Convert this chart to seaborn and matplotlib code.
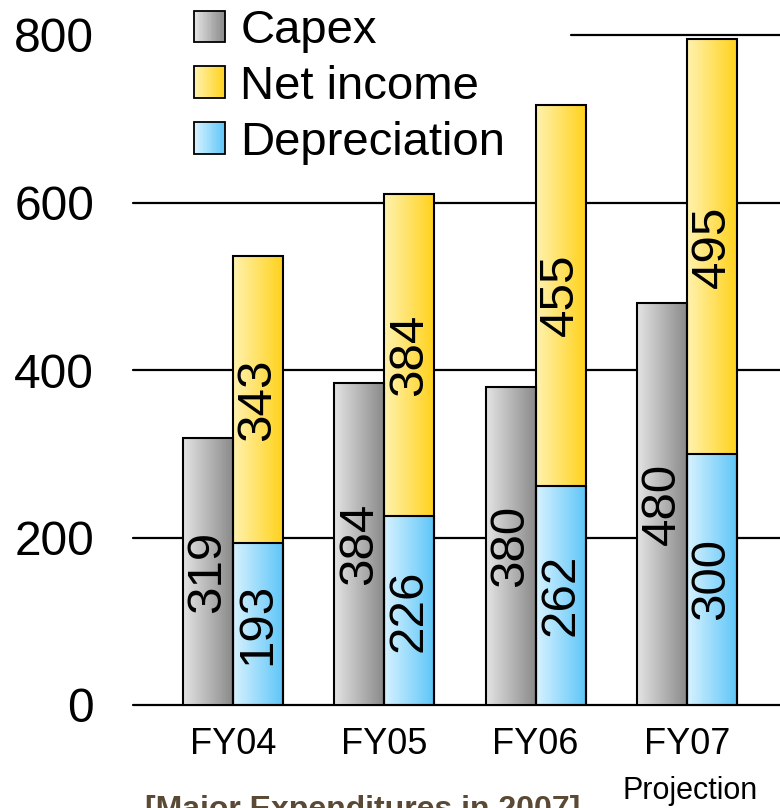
import numpy as np
import pandas as pd
import matplotlib
matplotlib.use("Agg")
import matplotlib.pyplot as plt
from matplotlib.colors import LinearSegmentedColormap
from matplotlib.patches import Rectangle, Patch
from matplotlib.legend_handler import HandlerBase
import seaborn as sns

# ---- data ----
years = ["FY04", "FY05", "FY06", "FY07"]
capex = [319, 384, 380, 480]
net_income = [343, 384, 455, 495]
depreciation = [193, 226, 262, 300]
y_ticks = [0, 200, 400, 600, 800]
series_names = ["Capex", "Net income", "Depreciation"]
footnote = "Projection"
caption = "[Major Expenditures in 2007]"

# ---- style ----
sns.set_style("white")
plt.rcParams["font.family"] = ["Liberation Sans", "DejaVu Sans"]
plt.rcParams["text.color"] = "black"
plt.rcParams["xtick.color"] = "black"
plt.rcParams["ytick.color"] = "black"
plt.rcParams["xtick.labelcolor"] = "black"
plt.rcParams["ytick.labelcolor"] = "black"

GRAD = {
    "Capex": ("#e4e4e4", "#8a8a8a"),
    "Net income": ("#fff2b0", "#ffd21c"),
    "Depreciation": ("#d8f2ff", "#5ec6f8"),
}
EDGE_LW = 1.5

fig = plt.figure(figsize=(7.8, 8.08), dpi=100)
ax = fig.add_axes([133 / 780, 103 / 808, 1 - 133 / 780, 670 / 808])

slots = ["left", "right"]
totals = [d + n for d, n in zip(depreciation, net_income)]

back = pd.DataFrame({
    "year": years * 2,
    "slot": ["left"] * 4 + ["right"] * 4,
    "value": capex + totals,
})
front = pd.DataFrame({
    "year": years,
    "slot": ["right"] * 4,
    "value": depreciation,
})

common = dict(x="year", y="value", hue="slot", hue_order=slots, order=years,
              dodge=True, width=0.66, saturation=1, legend=False,
              edgecolor="black", linewidth=EDGE_LW, ax=ax, errorbar=None)
sns.barplot(data=back, palette=[GRAD["Capex"][1], GRAD["Net income"][1]], **common)
sns.barplot(data=front, palette=[GRAD["Capex"][1], GRAD["Depreciation"][1]], **common)

cont_capex = ax.containers[0]
cont_total = ax.containers[1]
cont_dep = ax.containers[-1]

grad = np.linspace(0, 1, 256).reshape(1, -1)


def fill_gradient(container, key, zimg):
    cmap = LinearSegmentedColormap.from_list(key, GRAD[key])
    for p in container.patches:
        x0, y0 = p.get_x(), p.get_y()
        w, h = p.get_width(), p.get_height()
        if h == 0 or np.isnan(h):
            continue
        im = ax.imshow(grad, extent=[x0, x0 + w, y0, y0 + h], aspect="auto",
                       cmap=cmap, origin="lower", zorder=zimg,
                       interpolation="bilinear")
        im.set_clip_path(p)
        p.set_facecolor("none")
        p.set_zorder(3)


fill_gradient(cont_capex, "Capex", 2.0)
fill_gradient(cont_total, "Net income", 2.0)
fill_gradient(cont_dep, "Depreciation", 2.4)

# value labels inside each segment
lab_kw = dict(rotation=90, ha="center", va="center", fontsize=35.5, color="black", zorder=4)
for i, p in enumerate(cont_capex.patches):
    cx = p.get_x() + p.get_width() / 2
    ax.text(cx, capex[i] / 2, f"{capex[i]}", **lab_kw)
for i, p in enumerate(cont_dep.patches):
    cx = p.get_x() + p.get_width() / 2
    ax.text(cx, depreciation[i] / 2, f"{depreciation[i]}", **lab_kw)
    ax.text(cx, depreciation[i] + net_income[i] / 2, f"{net_income[i]}", **lab_kw)

# axes, grid
ax.set_xlim(-0.66, 3.615)
ax.set_ylim(0, 800)
ax.set_yticks(y_ticks)
ax.set_yticklabels([str(v) for v in y_ticks], fontsize=34.5)
ax.set_xticks(range(len(years)))
ax.set_xticklabels(years, fontsize=26)
ax.tick_params(axis="y", length=0, pad=28)
ax.tick_params(axis="x", length=0, pad=16)
ax.set_xlabel("")
ax.set_ylabel("")
for s in ax.spines.values():
    s.set_visible(False)

legend_right = (571 - 133) / (780 - 133)
for v in y_ticks:
    xmin = legend_right if v == y_ticks[-1] else 0
    ax.axhline(v, xmin=xmin, xmax=1, color="black", lw=1.6, zorder=0.5,
               clip_on=False)

ax.annotate(footnote, xy=(3, 0), xycoords=("data", "axes fraction"),
            xytext=(2, -68), textcoords="offset points",
            ha="center", va="baseline", fontsize=22)

fig.text(363 / 780, -10 / 808, caption, ha="center", va="baseline",
         fontsize=23, fontweight="bold", color="#5a4a35")


# legend with gradient swatches
class GradientHandler(HandlerBase):
    def __init__(self, colors, n=24):
        super().__init__()
        self.colors = colors
        self.n = n

    def create_artists(self, legend, orig_handle, xdescent, ydescent,
                       width, height, fontsize, trans):
        cmap = LinearSegmentedColormap.from_list("h", self.colors)
        arts = []
        for i in range(self.n):
            arts.append(Rectangle((-xdescent + width * i / self.n, -ydescent),
                                  width / self.n * 1.05, height,
                                  facecolor=cmap(i / (self.n - 1)),
                                  edgecolor="none", transform=trans))
        arts.append(Rectangle((-xdescent, -ydescent), width, height,
                              facecolor="none", edgecolor="black",
                              lw=1.3, transform=trans))
        return arts


handles = [Patch(label=n) for n in series_names]
hmap = {h: GradientHandler(GRAD[n]) for h, n in zip(handles, series_names)}
leg = fig.legend(handles=handles, labels=series_names, handler_map=hmap,
                 loc="upper left", bbox_to_anchor=(194 / 780, 1 - 9 / 808),
                 frameon=False, fontsize=34, borderpad=0, borderaxespad=0,
                 handlelength=0.66, handleheight=0.66, handletextpad=0.32,
                 labelspacing=0.25)
for t in leg.get_texts():
    t.set_color("black")

fig.savefig("out.png", dpi=100)
